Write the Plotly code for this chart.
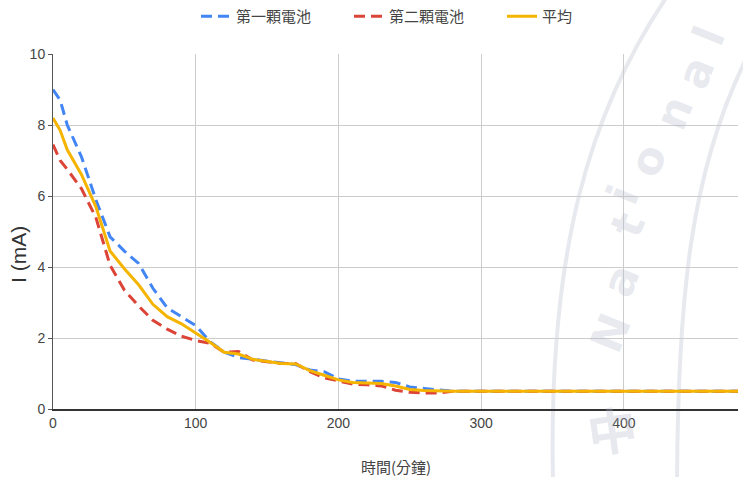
import plotly.graph_objects as go

# Sampling times (minutes)
minutes = [0, 5, 10, 20, 30, 40, 50, 60, 70, 80, 90, 100, 110, 120, 130, 140,
           150, 160, 170, 180, 190, 200, 210, 220, 230, 240, 250, 260, 270,
           280, 300, 320, 340, 360, 380, 400, 420, 440, 460, 480]

# Current of battery 1 (mA)
battery_1 = [9.0, 8.7, 8.0, 7.1, 5.9, 4.85, 4.45, 4.1, 3.4, 2.85, 2.6, 2.35,
             1.9, 1.6, 1.45, 1.4, 1.33, 1.28, 1.25, 1.1, 1.05, 0.85, 0.78,
             0.78, 0.78, 0.75, 0.62, 0.58, 0.55,
             0.5, 0.5, 0.5, 0.5, 0.5, 0.5, 0.5, 0.5, 0.5, 0.5, 0.5]

# Current of battery 2 (mA)
battery_2 = [7.45, 7.0, 6.75, 6.2, 5.4, 4.05, 3.35, 2.9, 2.5, 2.25, 2.05, 1.93,
             1.85, 1.6, 1.62, 1.38, 1.33, 1.28, 1.28, 1.05, 0.88, 0.8, 0.7,
             0.68, 0.65, 0.53, 0.47, 0.45, 0.45,
             0.5, 0.5, 0.5, 0.5, 0.5, 0.5, 0.5, 0.5, 0.5, 0.5, 0.5]

# Average current (mA)
average = [8.2, 7.85, 7.3, 6.6, 5.7, 4.45, 3.95, 3.5, 2.95, 2.6, 2.4, 2.15,
           1.88, 1.6, 1.55, 1.4, 1.33, 1.28, 1.27, 1.08, 0.95, 0.82, 0.75,
           0.73, 0.72, 0.65, 0.55, 0.52, 0.5,
           0.5, 0.5, 0.5, 0.5, 0.5, 0.5, 0.5, 0.5, 0.5, 0.5, 0.5]

series_names = ["第一顆電池", "第二顆電池", "平均"]
x_ticks = [0, 100, 200, 300, 400]
y_ticks = [0, 2, 4, 6, 8, 10]

W, H = 743, 477
L, R, T, B = 53, 5, 54, 68

CJK = "Noto Sans CJK TC, Liberation Sans, Arial, sans-serif"
LATIN = "Liberation Sans, Arial, sans-serif"

fig = go.Figure()
fig.add_trace(go.Scatter(x=minutes, y=battery_1, name=series_names[0], mode="lines",
                         line=dict(color="#4285F4", width=3, dash="11px,6px")))
fig.add_trace(go.Scatter(x=minutes, y=battery_2, name=series_names[1], mode="lines",
                         line=dict(color="#DB4437", width=3, dash="11px,6px")))
fig.add_trace(go.Scatter(x=minutes, y=average, name=series_names[2], mode="lines",
                         line=dict(color="#F4B400", width=3)))


def px(xp, yp):
    """Convert page pixels to paper coordinates."""
    return (xp - L) / (W - L - R), (H - B - yp) / (H - B - T)


def label(text, xp, yp, size, color, family, angle=0):
    xx, yy = px(xp, yp)
    fig.add_annotation(x=xx, y=yy, xref="paper", yref="paper", text=text,
                       showarrow=False, textangle=angle,
                       xanchor="center", yanchor="middle",
                       font=dict(family=family, size=size, color=color))


# faint seal in the background
seal = "rgba(175,183,200,0.30)"
letters = [("N", 610, 333), ("a", 620, 280), ("t", 627, 225), ("i", 622, 195),
           ("o", 647, 160), ("n", 673, 113), ("a", 695, 72), ("l", 708, 36)]
for ch, xp, yp in letters:
    label(f"<b>{ch}</b>", xp, yp, 44, seal, "DejaVu Sans, Liberation Sans", angle=-68)
label("<b>中</b>", 612, 428, 50, seal, CJK, angle=-8)


def path(points):
    (x0, y0), rest = px(*points[0]), [px(*p) for p in points[1:]]
    return f"M {x0},{y0} C " + " ".join(f"{a},{b}" for a, b in rest)


fig.add_shape(type="path", xref="paper", yref="paper", layer="below",
              path=path([(553, 480), (548, 250), (590, 110), (668, -5)]),
              line=dict(color=seal, width=4))
fig.add_shape(type="path", xref="paper", yref="paper", layer="below",
              path=path([(677, 480), (678, 300), (690, 170), (748, 55)]),
              line=dict(color=seal, width=4))

# axis titles
label("I (mA)", 18, 255, 21, "#333333", LATIN, angle=-90)
label("時間(分鐘)", 396, 466, 15, "#444444", CJK)

fig.update_layout(
    width=W, height=H,
    margin=dict(l=L, r=R, t=T, b=B),
    paper_bgcolor="white", plot_bgcolor="rgba(0,0,0,0)",
    showlegend=True,
    legend=dict(orientation="h", x=196 / W, xanchor="left", xref="container",
                y=1.0, yanchor="top", yref="container",
                font=dict(family=CJK, size=15, color="#444444"),
                entrywidth=108, entrywidthmode="pixels",
                itemwidth=30, bgcolor="rgba(0,0,0,0)"),
    xaxis=dict(range=[0, 480], tickvals=x_ticks, showgrid=True, gridcolor="#cccccc",
               gridwidth=1, zeroline=False, showline=True, linecolor="#333333",
               linewidth=2, tickfont=dict(family=LATIN, size=14, color="#444444"),
               ticks="", fixedrange=True),
    yaxis=dict(range=[0, 10], tickvals=y_ticks, showgrid=True, gridcolor="#cccccc",
               gridwidth=1, zeroline=False, showline=True, linecolor="#555555",
               linewidth=1, tickfont=dict(family=LATIN, size=14, color="#444444"),
               ticks="outside", ticklen=4, tickcolor="#555555", fixedrange=True),
)

fig.write_html("out.html")
